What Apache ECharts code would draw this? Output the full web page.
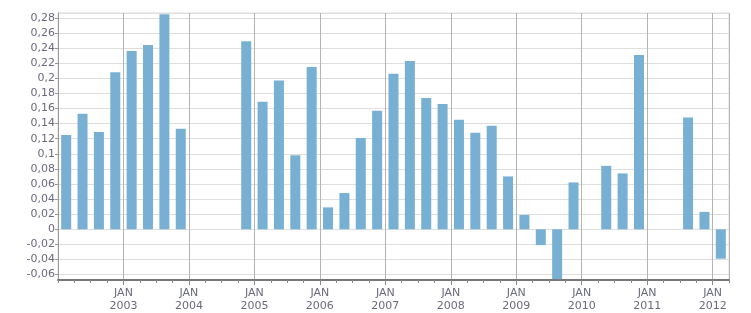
<!DOCTYPE html>
<html>
<head>
<meta charset="utf-8">
<script src="https://cdn.jsdelivr.net/npm/echarts@6/dist/echarts.min.js"></script>
<style>html,body{margin:0;padding:0;background:#fff}#c{width:751px;height:313px}</style>
</head>
<body>
<div id="c"></div>
<script>
// Quarters from 2002 Q1 to 2012 Q1
const quarters = ["2002Q1","2002Q2","2002Q3","2002Q4","2003Q1","2003Q2","2003Q3","2003Q4",
  "2004Q1","2004Q2","2004Q3","2004Q4","2005Q1","2005Q2","2005Q3","2005Q4",
  "2006Q1","2006Q2","2006Q3","2006Q4","2007Q1","2007Q2","2007Q3","2007Q4",
  "2008Q1","2008Q2","2008Q3","2008Q4","2009Q1","2009Q2","2009Q3","2009Q4",
  "2010Q1","2010Q2","2010Q3","2010Q4","2011Q1","2011Q2","2011Q3","2011Q4","2012Q1"];
const values = [0.125,0.153,0.129,0.208,0.236,0.244,0.285,0.133,
  null,null,null,0.249,0.169,0.197,0.098,0.215,
  0.029,0.048,0.121,0.157,0.206,0.223,0.174,0.166,
  0.145,0.128,0.137,0.070,0.019,-0.021,-0.066,0.062,
  null,0.084,0.074,0.231,null,null,0.148,0.023,-0.039];
const yRange = { min: -0.0672, max: 0.2865, splits: 18 };
const firstYear = 2002;

const data = quarters.map((q, i) => [i + 0.5, values[i]]);
const fmt = v => String(+(+v).toFixed(4)).replace('.', ',');
const labelColor = '#6a6a7e';
const font = 'Verdana, "DejaVu Sans", sans-serif';

const chart = echarts.init(document.getElementById('c'), null, {renderer: 'canvas'});
chart.setOption({
  animation: false,
  grid: { left: 58, right: 22, top: 13, bottom: 32, show: true, borderColor: '#dcdcdc', borderWidth: 1 },
  xAxis: [{
    type: 'value', min: 0, max: quarters.length, interval: 1,
    axisLine: { show: true, onZero: false, lineStyle: { color: '#777', width: 2 } },
    axisTick: { show: true, length: 3, lineStyle: { color: '#888' } },
    axisLabel: { show: false },
    splitLine: { show: false }
  }, {
    type: 'value', min: 0, max: quarters.length, interval: 4, position: 'bottom',
    axisLine: { show: false, onZero: false },
    axisTick: { show: true, length: 5, lineStyle: { color: '#888' } },
    axisLabel: {
      show: true, showMinLabel: false, showMaxLabel: false, margin: 7,
      color: labelColor, fontFamily: font, fontSize: 11, lineHeight: 13,
      formatter: v => 'JAN\n' + (firstYear + Math.round(v / 4))
    },
    splitLine: { show: true, lineStyle: { color: '#b4b4b4', width: 1 } }
  }],
  yAxis: {
    type: 'value', min: yRange.min, max: yRange.max, splitNumber: yRange.splits,
    axisLine: { show: true, lineStyle: { color: '#999', width: 1 } },
    axisTick: { show: true, length: 3, lineStyle: { color: '#999' } },
    axisLabel: {
      showMinLabel: false, showMaxLabel: false, margin: 3,
      color: labelColor, fontFamily: font, fontSize: 11, formatter: fmt
    },
    splitLine: { show: true, lineStyle: { color: '#dedede', width: 1 } }
  },
  series: [{
    type: 'bar', xAxisIndex: 0, data: data, barWidth: 10,
    itemStyle: { color: '#77b0d3' }
  }]
});
</script>
</body>
</html>
